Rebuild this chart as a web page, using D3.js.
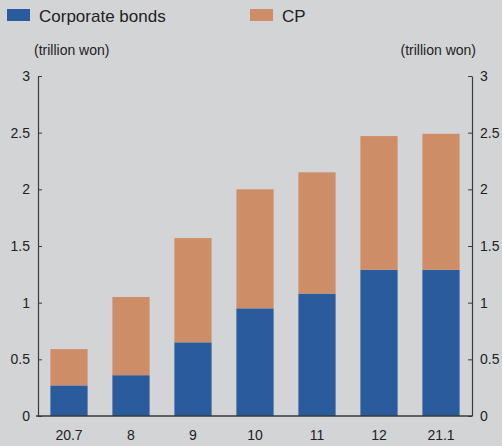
<!DOCTYPE html>
<html>
<head>
<meta charset="utf-8">
<script src="https://cdn.jsdelivr.net/npm/d3@7"></script>
<style>
  html, body { margin: 0; padding: 0; background: #d3d4d6; }
  svg { display: block; }
  .tick text { font-family: "Liberation Sans", Arial, sans-serif; }
</style>
</head>
<body>
<svg id="chart" width="502" height="446"></svg>
<script>
// Monthly issuance, trillion won
const periods = ["20.7", "8", "9", "10", "11", "12", "21.1"];
const corporateBonds = [0.27, 0.36, 0.65, 0.95, 1.08, 1.29, 1.29];
const cp = [0.32, 0.69, 0.92, 1.05, 1.07, 1.18, 1.20];
const yTicks = [0, 0.5, 1, 1.5, 2, 2.5, 3];
const seriesNames = ["Corporate bonds", "CP"];
const colors = ["#2a5c9d", "#cd8d66"];
const unitLabel = "(trillion won)";

const svg = d3.select("#chart");
const plotLeft = 38, plotRight = 472, plotTop = 76, plotBottom = 416;

const x = d3.scaleBand().domain(periods).range([plotLeft, plotRight]).paddingInner(0.4).paddingOuter(0.2);
const y = d3.scaleLinear().domain([0, 3]).range([plotBottom, plotTop]);

const rows = periods.map((p, i) => ({ period: p, bonds: corporateBonds[i], cp: cp[i] }));
const stacked = d3.stack().keys(["bonds", "cp"])(rows);

svg.append("g").selectAll("g").data(stacked).join("g")
  .attr("fill", (d, i) => colors[i])
  .selectAll("rect").data(d => d).join("rect")
  .attr("x", d => x(d.data.period))
  .attr("width", x.bandwidth())
  .attr("y", d => y(d[1]))
  .attr("height", d => y(d[0]) - y(d[1]));

const axisColor = "#3a3a3a";
const fmt = d => d3.format("~g")(d);

// Left axis, ticks pointing inward
const gl = svg.append("g").attr("transform", `translate(${plotLeft},0)`)
  .call(d3.axisRight(y).tickValues(yTicks).tickFormat(fmt).tickSize(4).tickSizeOuter(0));
gl.selectAll(".tick text").attr("x", -8).attr("text-anchor", "end");

// Right axis, ticks pointing inward
const gr = svg.append("g").attr("transform", `translate(${plotRight},0)`)
  .call(d3.axisLeft(y).tickValues(yTicks).tickFormat(fmt).tickSize(4).tickSizeOuter(0));
gr.selectAll(".tick text").attr("x", 8).attr("text-anchor", "start");

[gl, gr].forEach(g => {
  g.select(".domain").attr("stroke", axisColor).attr("stroke-width", 1.2);
  g.selectAll(".tick line").attr("stroke", axisColor);
  g.selectAll(".tick text").attr("fill", "#222").style("font-size", "14px");
});

// Bottom axis
const gb = svg.append("g").attr("transform", `translate(0,${plotBottom})`)
  .call(d3.axisBottom(x).tickSize(0).tickPadding(14));
gb.select(".domain").attr("stroke", axisColor).attr("stroke-width", 1.5)
  .attr("d", `M${plotLeft - 2},0H${plotRight}`);
gb.selectAll(".tick text").attr("fill", "#222").style("font-size", "14px");

// Unit labels
const narrow = "'Liberation Sans Narrow', 'Arial Narrow', 'Liberation Sans', sans-serif";
svg.append("text").attr("x", 34).attr("y", 55).text(unitLabel)
  .style("font-family", narrow).style("font-size", "14px").attr("fill", "#222");
svg.append("text").attr("x", 476).attr("y", 55).attr("text-anchor", "end").text(unitLabel)
  .style("font-family", narrow).style("font-size", "14px").attr("fill", "#222");

// Legend
const legendX = [7, 250];
const lg = svg.append("g").selectAll("g").data(seriesNames).join("g")
  .attr("transform", (d, i) => `translate(${legendX[i]},9)`);
lg.append("rect").attr("width", 23).attr("height", 12).attr("fill", (d, i) => colors[i]);
lg.append("text").attr("x", 32).attr("y", 12.5).text(d => d)
  .style("font-family", "'Liberation Sans', Arial, sans-serif").style("font-size", "17px").attr("fill", "#222");
</script>
</body>
</html>
